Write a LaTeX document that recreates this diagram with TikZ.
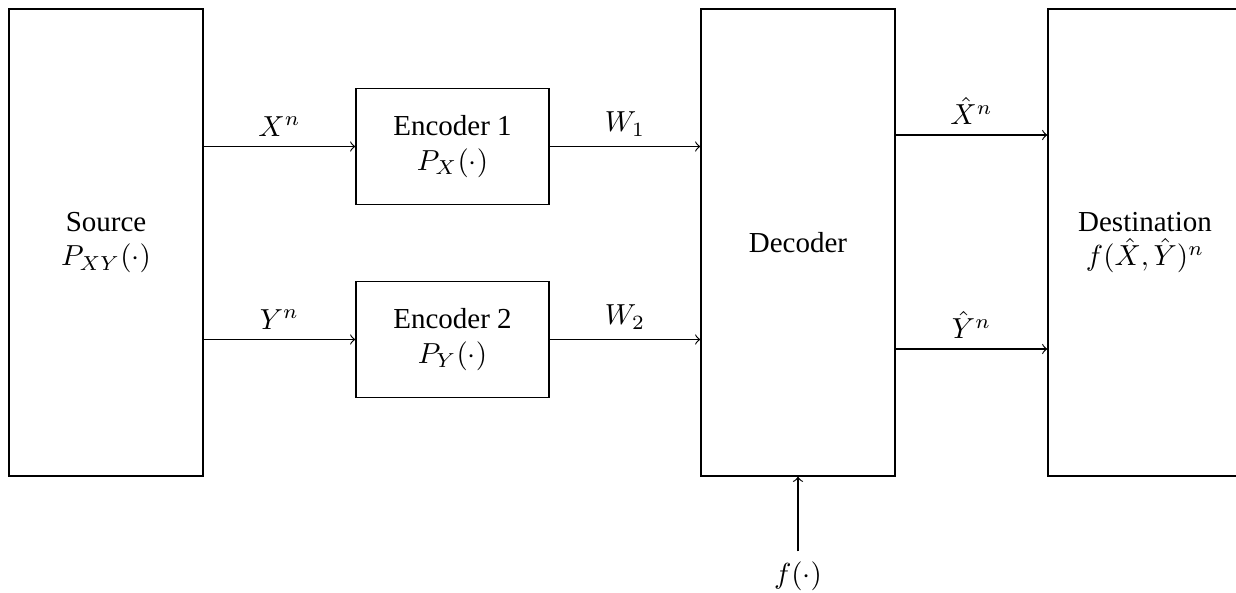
\documentclass[tikz,border=0pt]{standalone}
\usepackage{fontspec}
\setmainfont{Liberation Serif}
\begin{document}
\begin{tikzpicture}[x=0.345pt,y=-0.345pt,
  bigbox/.style={draw,minimum width=194*0.345pt,minimum height=467*0.345pt,align=center,inner sep=0pt},
  encbox/.style={draw,minimum width=193*0.345pt,minimum height=116*0.345pt,align=center,inner sep=0pt},
  conn/.style={->}]
\useasboundingbox (0,0) rectangle (1236,592);
\node[bigbox] (src) at (106,242.5) {Source\\$P_{XY}(\cdot)$};
\node[encbox] (enc1) at (452.5,146.5) {Encoder 1\\$P_X(\cdot)$};
\node[encbox] (enc2) at (452.5,339.5) {Encoder 2\\$P_Y(\cdot)$};
\node[bigbox] (dec) at (798,242.5) {Decoder};
\node[bigbox] (dest) at (1145,242.5) {Destination\\$f(\hat{X},\hat{Y})^n$};
\node (f) at (798,576) {$f(\cdot)$};
\draw[conn] (src.east |- enc1) -- node[above] {$X^n$} (enc1.west);
\draw[conn] (src.east |- enc2) -- node[above] {$Y^n$} (enc2.west);
\draw[conn] (enc1.east) -- node[above] {$W_1$} (enc1.east -| dec.west);
\draw[conn] (enc2.east) -- node[above] {$W_2$} (enc2.east -| dec.west);
\draw[conn] (dec.east |- 0,135) -- node[above] {$\hat{X}^n$} (dest.west |- 0,135);
\draw[conn] (dec.east |- 0,349) -- node[above] {$\hat{Y}^n$} (dest.west |- 0,349);
\draw[conn] (f.north) -- (dec.south);
\end{tikzpicture}
\end{document}
